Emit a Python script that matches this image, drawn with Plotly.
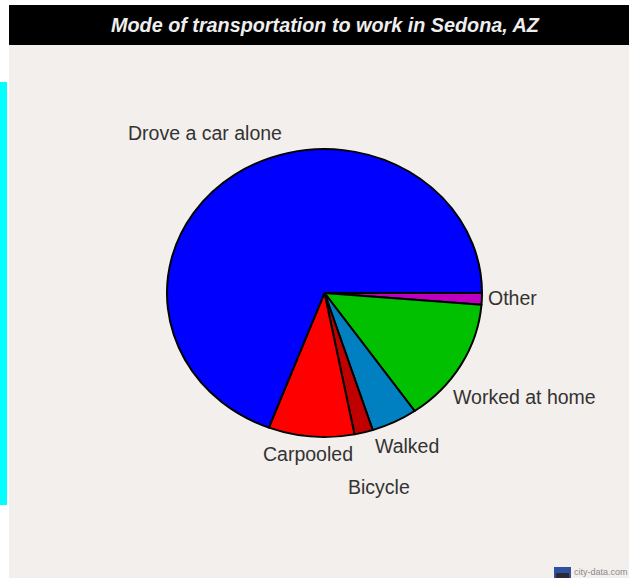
import plotly.graph_objects as go

W, H = 629, 578
categories = ["Other", "Worked at home", "Walked", "Bicycle", "Carpooled", "Drove a car alone"]
shares = [1.3, 14.0, 4.75, 1.9, 8.8, 69.25]
colors = ["#c000c0", "#00c000", "#0080c0", "#c00000", "#ff0000", "#0000ff"]
label_anchor = [(486, 298), (451, 397), (373, 446), (346, 487), (261, 454), (126, 133)]
title_text = "Mode of transportation to work in Sedona, AZ"

CY = 293
SQUASH = 0.914

px = lambda x: x / W
py = lambda y: 1 - y / H

def rect(x0, y0, x1, y1, color):
    return dict(type="rect", xref="paper", yref="paper", x0=px(x0), x1=px(x1),
                y0=py(y1), y1=py(y0), fillcolor=color, line_width=0, layer="below")

fig = go.Figure(go.Pie(
    labels=categories, values=shares, sort=False, direction="clockwise", rotation=90,
    marker=dict(colors=colors, line=dict(color="#000000", width=2)),
    textinfo="none", hoverinfo="label+percent", showlegend=False,
    domain=dict(x=[px(167), px(482)], y=[py(CY + 157.5), py(CY - 157.5)]),
))

annotations = [dict(text=c, x=px(x), y=py(y), xref="paper", yref="paper", xanchor="left",
                    yanchor="middle", showarrow=False,
                    font=dict(family="Liberation Sans", size=19.5, color="#333333"))
               for c, (x, y) in zip(categories, label_anchor)]
annotations.append(dict(text=f"<b><i>{title_text}</i></b>", x=px(325), y=py(25), xref="paper",
                        yref="paper", xanchor="center", yanchor="middle", showarrow=False,
                        font=dict(family="Liberation Sans", size=19.8, color="#eeeeee")))
annotations.append(dict(text="city-data.com", x=px(572), y=py(572), xref="paper", yref="paper",
                        xanchor="left", yanchor="middle", showarrow=False,
                        font=dict(family="Liberation Sans", size=9, color="#8a8a8a")))

fig.update_layout(
    width=W, height=H, autosize=False, margin=dict(l=0, r=0, t=0, b=0),
    paper_bgcolor="#ffffff", plot_bgcolor="#ffffff",
    shapes=[
        rect(9, 5, W, H, "#f3efec"),
        rect(9, 5, W, 45, "#000000"),
        rect(0, 82, 7, 505, "#00ffff"),
        rect(554, 567, 571, H, "#2f4f9f"),
        rect(556, 573, 569, H, "#2a2a30"),
    ],
    annotations=annotations,
)
post = (
    "document.documentElement.style.margin='0';"
    "document.body.style.margin='0';"
    "document.body.style.overflow='hidden';"
    f"document.querySelector('.pielayer').setAttribute('transform',"
    f"'translate(0,{CY}) scale(1,{SQUASH}) translate(0,{-CY})');"
)
fig.write_html("out.html", post_script=post, config={"displayModeBar": False})
